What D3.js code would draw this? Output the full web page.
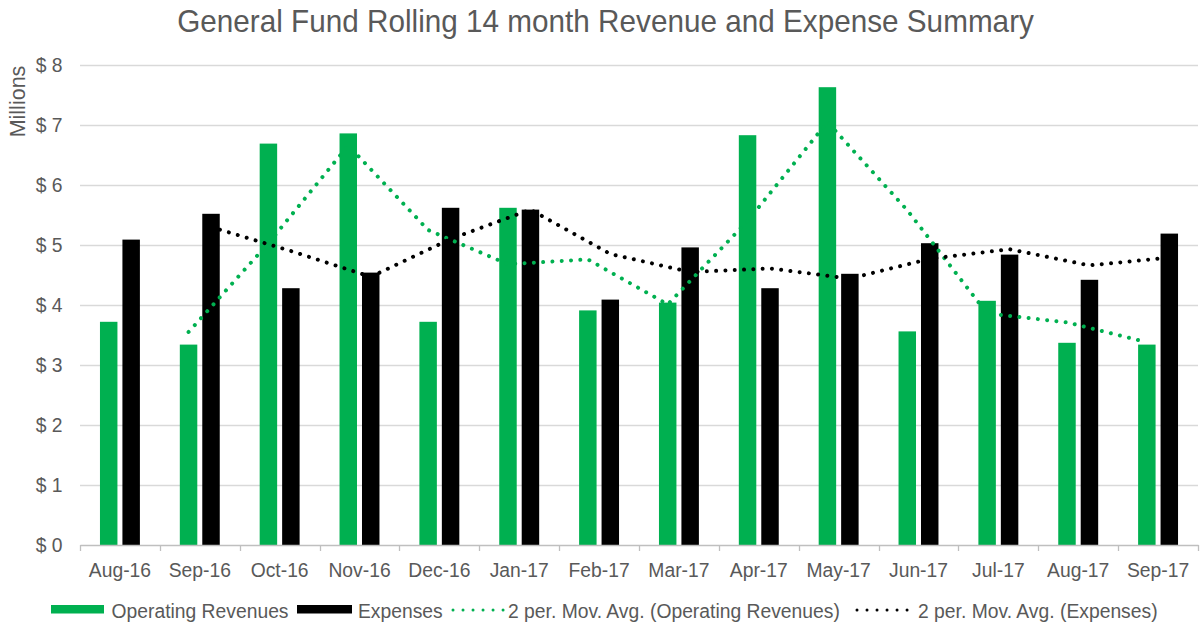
<!DOCTYPE html>
<html><head><meta charset="utf-8">
<script src="https://cdn.jsdelivr.net/npm/d3@7"></script>
<style>
html,body{margin:0;padding:0;background:#fff;}
svg{display:block;font-family:"Liberation Sans",Arial,sans-serif;}
</style></head>
<body>
<svg id="chart" width="1203" height="625"></svg>
<script>
// ---- data ----
const categories = ["Aug-16","Sep-16","Oct-16","Nov-16","Dec-16","Jan-17","Feb-17","Mar-17","Apr-17","May-17","Jun-17","Jul-17","Aug-17","Sep-17"];
const operatingRevenues = [3.72,3.34,6.69,6.86,3.72,5.62,3.91,4.04,6.83,7.63,3.56,4.07,3.37,3.34];
const expenses = [5.09,5.52,4.28,4.54,5.62,5.59,4.09,4.96,4.28,4.52,5.03,4.84,4.42,5.19];
// 2-period moving averages (from Sep-16 onward)
const maCategories = categories.slice(1);
const maRevenues = [3.55,5.03,6.66,5.25,4.68,4.76,4.01,5.40,7.05,5.58,3.86,3.71,3.38];
const maExpenses = [5.30,4.90,4.47,5.10,5.59,4.85,4.55,4.61,4.44,4.77,4.93,4.66,4.79];
const yTicks = [0,1,2,3,4,5,6,7,8];
const title = "General Fund Rolling 14 month Revenue and Expense Summary";
const yTitle = "Millions";
const legendLabels = ["Operating Revenues","Expenses","2 per. Mov. Avg. (Operating Revenues)","2 per. Mov. Avg. (Expenses)"];

const GREEN = "#00b050", BLACK = "#000000", TEXT = "#595959", GRID = "#d9d9d9";
const SX = 0.92;

const svg = d3.select("#chart");
const L = 80, R = 1198, T = 65, B = 545;

const x = d3.scaleBand().domain(categories).range([L, R]).padding(0);
const bw = x.bandwidth();
const x1 = d3.scaleBand().domain(["rev","exp"]).range([bw*0.25, bw*0.75]).paddingInner(0.222).paddingOuter(0);
const y = d3.scaleLinear().domain([0,8]).range([B, T]);

// title
svg.append("text")
  .attr("transform", `translate(605.5,31.5) scale(0.99,1.05)`)
  .attr("text-anchor","middle")
  .attr("font-size", 30)
  .attr("fill", TEXT)
  .text(title);

// y title
svg.append("text")
  .attr("transform", "translate(25,101.5) rotate(-90)")
  .attr("text-anchor","middle")
  .attr("font-size", 21.5)
  .attr("fill", TEXT)
  .text(yTitle);

// gridlines
svg.append("g").selectAll("line").data(yTicks.filter(d=>d>0)).join("line")
  .attr("x1", L).attr("x2", R)
  .attr("y1", d=>y(d)+0.5).attr("y2", d=>y(d)+0.5)
  .attr("stroke", GRID).attr("stroke-width", 1.3);

// y axis (labels only)
const yAxis = svg.append("g").attr("transform", `translate(${L},0)`)
  .call(d3.axisLeft(y).tickValues(yTicks).tickSize(0).tickFormat(d => "$ " + d));
yAxis.select(".domain").remove();
yAxis.selectAll("text")
  .attr("font-size", 21).attr("fill", TEXT).attr("font-family", null)
  .attr("x", 0).attr("dy", "0.32em")
  .attr("transform", `translate(-17.5,0) scale(${SX},1)`);

// bars
const groups = svg.append("g").selectAll("g").data(categories).join("g")
  .attr("transform", d => `translate(${x(d)},0)`);
groups.append("rect")
  .attr("x", x1("rev")).attr("width", x1.bandwidth())
  .attr("y", (d,i) => y(operatingRevenues[i]))
  .attr("height", (d,i) => y(0) - y(operatingRevenues[i]))
  .attr("fill", GREEN);
groups.append("rect")
  .attr("x", x1("exp")).attr("width", x1.bandwidth())
  .attr("y", (d,i) => y(expenses[i]))
  .attr("height", (d,i) => y(0) - y(expenses[i]))
  .attr("fill", BLACK);

// x axis
const xAxis = svg.append("g").attr("transform", `translate(0,${B})`)
  .call(d3.axisBottom(x).tickSize(0).tickPadding(0));
xAxis.select(".domain").attr("stroke", "#bfbfbf").attr("stroke-width", 1.3);
xAxis.selectAll("text")
  .attr("font-size", 21).attr("fill", TEXT).attr("font-family", null)
  .attr("y", 0).attr("dy", 0)
  .attr("transform", `translate(0,31.7) scale(${SX},1)`);
// tick marks at category boundaries
const bounds = categories.map(c => x(c)).concat([R]);
svg.append("g").selectAll("line").data(bounds).join("line")
  .attr("x1", d=>Math.round(d)+0.5).attr("x2", d=>Math.round(d)+0.5)
  .attr("y1", B).attr("y2", B+6)
  .attr("stroke", "#bfbfbf").attr("stroke-width", 1.3);

// moving averages
const lineRev = d3.line()
  .x((d,i) => x(maCategories[i]) + x1("rev") + x1.bandwidth()/2)
  .y(d => y(d));
const lineExp = d3.line()
  .x((d,i) => x(maCategories[i]) + x1("exp") + x1.bandwidth()/2)
  .y(d => y(d));
svg.append("path").datum(maRevenues).attr("d", lineRev)
  .attr("fill","none").attr("stroke", GREEN).attr("stroke-width", 4)
  .attr("stroke-linecap","round").attr("stroke-dasharray","0.01 9.3");
svg.append("path").datum(maExpenses).attr("d", lineExp)
  .attr("fill","none").attr("stroke", BLACK).attr("stroke-width", 4)
  .attr("stroke-linecap","round").attr("stroke-dasharray","0.01 9.3");

// legend
const lg = svg.append("g");
const legY = 609;
lg.append("rect").attr("x",51).attr("y",605).attr("width",53).attr("height",8.5).attr("fill",GREEN);
lg.append("rect").attr("x",297).attr("y",605).attr("width",55).attr("height",8.5).attr("fill",BLACK);
lg.append("line").attr("x1",453).attr("x2",503.5).attr("y1",legY+1).attr("y2",legY+1)
  .attr("stroke",GREEN).attr("stroke-width",3).attr("stroke-linecap","round").attr("stroke-dasharray","0.01 10");
lg.append("line").attr("x1",857).attr("x2",907.5).attr("y1",legY+1).attr("y2",legY+1)
  .attr("stroke",BLACK).attr("stroke-width",3).attr("stroke-linecap","round").attr("stroke-dasharray","0.01 10");
const legTextX = [111.5, 358, 508, 918];
lg.selectAll("text.leg").data(legendLabels).join("text")
  .attr("class","leg")
  .attr("transform", (d,i) => `translate(${legTextX[i]},617.5) scale(${SX},1)`)
  .attr("font-size", 21).attr("fill", TEXT)
  .text(d => d);
</script>
</body></html>
